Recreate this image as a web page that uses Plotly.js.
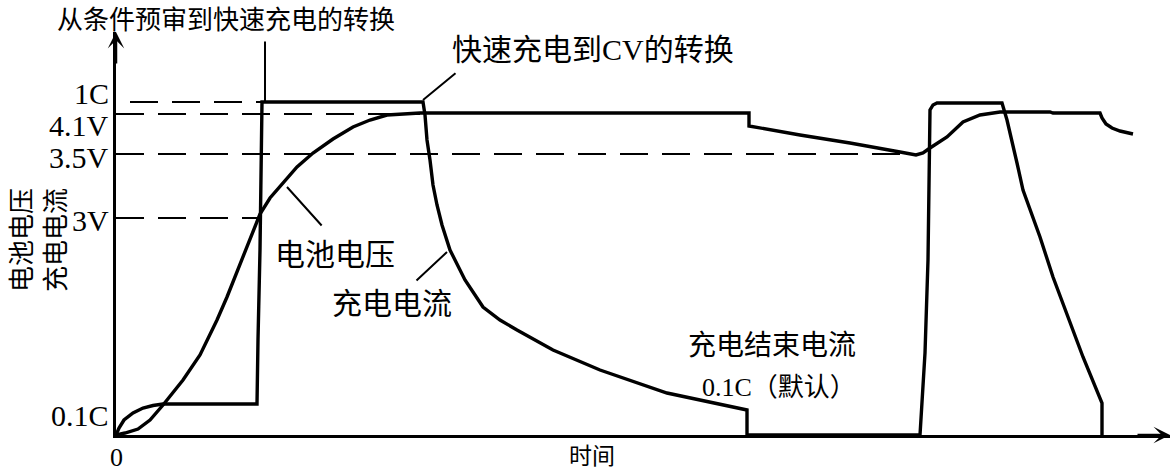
<!DOCTYPE html>
<html>
<head>
<meta charset="utf-8">
<script src="https://cdn.plot.ly/plotly-3.0.1.min.js"></script>
<style>
  html, body { margin: 0; padding: 0; background: #fff; }
  #chart { width: 1173px; height: 473px; }
</style>
</head>
<body>
<div id="chart"></div>
<script>
// ---------- data (time in arbitrary units, level in arbitrary units) ----------
const currentTime = [0, 3, 8, 17, 27, 37, 47, 141, 142, 144, 146, 307, 309, 311, 314, 317, 321, 326, 334, 349, 367, 384, 401, 437, 484, 551, 631, 631, 804, 809, 812, 814, 814, 817, 821, 886, 891, 901, 907, 924, 937, 967, 986, 986];
const currentValue = [0, 7, 15, 22, 27, 29.5, 31, 31, 95, 185, 333, 333, 320, 295, 275, 250, 230, 210, 185, 155, 128, 115, 105, 85, 65, 42, 25, 0, 0, 82, 175, 288, 325, 330, 332, 332, 315, 272, 245, 198, 158, 78, 32, 0];

const voltageTime = [0, 9, 22, 34, 47, 57, 67, 84, 101, 111, 117, 129, 144, 154, 167, 181, 197, 217, 237, 254, 271, 289, 304, 633, 633, 684, 734, 784, 794, 800, 807, 814, 831, 847, 864, 884, 934, 937, 984, 986, 990, 996, 1004, 1017];
const voltageValue = [0, 2, 6, 15, 30, 42, 55, 80, 115, 138, 153, 185, 221, 237, 252, 268, 282, 296, 308, 315, 320, 321.5, 322, 322, 309, 300, 292, 283, 281, 280, 282, 287, 298, 313, 320, 323, 323, 322, 322, 317, 311, 307, 304, 301];

// reference levels shown on the vertical axis
const levelLabels = ['1C', '4.1V', '3.5V', '3V', '0.1C'];
const levelValues = [333, 321, 281, 217, 31];
// dashed guide lines: [start time, end time] per level (null = no guide)
const guideFrom = [14, 0, 0, 0, null];
const guideTo   = [146, 304, 789, 144, null];

// callout texts and their target points on the curves
const calloutTexts = ['快速充电到CV的转换', '电池电压', '充电电流', '充电结束电流', '0.1C（默认）'];
const pointerTargetsX = [149, 307, 171, 331];
const pointerTargetsY = [333, 335, 248, 183];
const pointerTailsX = [149, 341, 207, 299];
const pointerTailsY = [395, 363, 208, 153];

const titleText = '从条件预审到快速充电的转换';
const xTitle = '时间';
const yTitle = '电池电压<br>充电电流';

// ---------- drawing ----------
const CJK = 'Noto Sans CJK SC';
const MIX = 'Liberation Serif, Noto Sans CJK SC';
const SERIF = 'Liberation Serif, Times New Roman, serif';

const traces = [];
levelValues.forEach((v, i) => {
  if (guideFrom[i] === null) return;
  traces.push({
    x: [guideFrom[i], guideTo[i]], y: [v, v], mode: 'lines',
    line: { color: '#000', width: 2, dash: '28px,14px' },
    hoverinfo: 'skip', showlegend: false
  });
});
traces.push({
  x: voltageTime, y: voltageValue, mode: 'lines', name: '电池电压',
  line: { color: '#000', width: 3.4 }, showlegend: false
});
traces.push({
  x: currentTime, y: currentValue, mode: 'lines', name: '充电电流',
  line: { color: '#000', width: 3.4 }, showlegend: false
});

const annotations = [];
// tick labels on the vertical axis
const labelShift = [9, -11, -3, -2, -11];
levelLabels.forEach((t, i) => {
  annotations.push({
    x: 0, y: levelValues[i], xref: 'x', yref: 'y', text: t, showarrow: false,
    xanchor: 'right', yanchor: 'middle', xshift: -5, yshift: labelShift[i],
    font: { family: SERIF, size: 30, color: '#000' }
  });
});
annotations.push({
  x: 0, y: 0, xref: 'x', yref: 'y', text: '0', showarrow: false,
  xanchor: 'center', yanchor: 'middle', yshift: -22,
  font: { family: SERIF, size: 26, color: '#000' }
});
// axis titles
annotations.push({
  x: 476, y: 0, xref: 'x', yref: 'y', text: xTitle, showarrow: false,
  xanchor: 'center', yanchor: 'middle', yshift: -19,
  font: { family: CJK, size: 23, color: '#000' }
});
annotations.push({
  x: 0, y: 195, xref: 'x', yref: 'y', text: yTitle, showarrow: false,
  textangle: -90, xanchor: 'center', yanchor: 'middle', xshift: -80,
  font: { family: CJK, size: 26, color: '#000' }
});
// callout texts
const calloutPos = [
  { x: 334, y: 386, xanchor: 'left', size: 30 },
  { x: 157, y: 181, xanchor: 'left', size: 30 },
  { x: 214, y: 132, xanchor: 'left', size: 30 },
  { x: 742, y: 90, xanchor: 'right', size: 28 },
  { x: 742, y: 48, xanchor: 'right', size: 26 }
];
calloutTexts.forEach((t, i) => {
  annotations.push({
    x: calloutPos[i].x, y: calloutPos[i].y, xref: 'x', yref: 'y', text: t,
    showarrow: false, xanchor: calloutPos[i].xanchor, yanchor: 'middle',
    font: { family: MIX, size: calloutPos[i].size, color: '#000' }
  });
});
// pointer (leader) lines
pointerTargetsX.forEach((px, i) => {
  annotations.push({
    x: px, y: pointerTargetsY[i], xref: 'x', yref: 'y',
    ax: pointerTailsX[i], ay: pointerTailsY[i], axref: 'x', ayref: 'y',
    text: '', showarrow: true, arrowhead: 0, arrowwidth: 2, arrowcolor: '#000'
  });
});
// axis arrowheads
annotations.push({
  x: 1054, y: 0, xref: 'x', yref: 'y', ax: 1020, ay: 0, axref: 'x', ayref: 'y',
  text: '', showarrow: true, arrowhead: 3, arrowsize: 1.1, arrowwidth: 2.5, arrowcolor: '#000'
});
annotations.push({
  x: 0, y: 403, xref: 'x', yref: 'y', ax: 0, ay: 370, axref: 'x', ayref: 'y',
  text: '', showarrow: true, arrowhead: 3, arrowsize: 1.1, arrowwidth: 2.5, arrowcolor: '#000'
});

const layout = {
  width: 1173, height: 473,
  margin: { l: 116, r: 3, t: 32, b: 38 },
  paper_bgcolor: '#fff', plot_bgcolor: '#fff',
  title: {
    text: titleText, x: 57 / 1173, xanchor: 'left', y: 1 - 20 / 473, yanchor: 'middle',
    font: { family: CJK, size: 26, color: '#000' }
  },
  xaxis: {
    range: [0, 1054], showgrid: false, zeroline: false, showticklabels: false, ticks: '',
    showline: true, linecolor: '#000', linewidth: 3, fixedrange: true
  },
  yaxis: {
    range: [0, 403], showgrid: false, zeroline: false, showticklabels: false, ticks: '',
    showline: true, linecolor: '#000', linewidth: 3, fixedrange: true
  },
  annotations: annotations,
  showlegend: false
};

Plotly.newPlot('chart', traces, layout, { staticPlot: true, displayModeBar: false });
</script>
</body>
</html>
